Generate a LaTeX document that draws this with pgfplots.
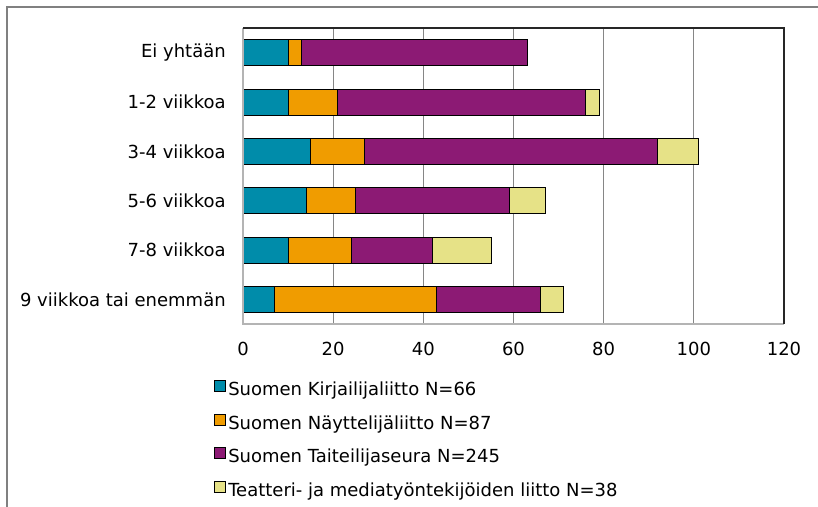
\documentclass[border=0pt]{standalone}
\usepackage{fontspec}
\setmainfont{DejaVu Sans}
\usepackage{pgfplots}
\pgfplotsset{compat=1.18}
\definecolor{cBlue}{RGB}{0,140,170}
\definecolor{cOrange}{RGB}{240,156,0}
\definecolor{cPurple}{RGB}{140,26,116}
\definecolor{cYellow}{RGB}{230,226,135}
\definecolor{cFrame}{RGB}{128,128,128}
\definecolor{cGrid}{RGB}{134,134,134}
\definecolor{cDark}{RGB}{38,38,38}
\definecolor{cLight}{RGB}{180,180,180}
\pgfplotsset{mylegend/.style={legend image code/.code={\draw[##1, line width=0.6pt] (0pt,-0.3pt) rectangle (8.4pt,8.1pt);}}}
\begin{document}
\begin{tikzpicture}
\useasboundingbox (0,0) rectangle (613.5pt,-380.25pt);
\draw[cFrame, line width=1.5pt] (5.25pt,-381pt) -- (5.25pt,-5.25pt) -- (614pt,-5.25pt);
\begin{axis}[
  at={(182.25pt,-243pt)}, anchor=south west,
  scale only axis, width=405.75pt, height=222pt,
  xbar stacked, bar width=19.5pt,
  xmin=0, xmax=120, xtick={0,20,...,120},
  ymin=-0.5, ymax=5.5, y dir=reverse, ytick={0,1,2,3,4,5},
  yticklabels={Ei yhtään, 1-2 viikkoa, 3-4 viikkoa, 5-6 viikkoa, 7-8 viikkoa, 9 viikkoa tai enemmän},
  major tick length=0pt,
  xmajorgrids, grid style={line width=0.75pt, color=cGrid},
  axis line style={draw=none},
  tick label style={font=\fontsize{13.5}{16}\selectfont},
  /pgf/number format/assume math mode=true,
  yticklabel style={inner sep=0pt, xshift=-12.75pt},
  xticklabel style={inner sep=0pt, yshift=-13.5pt},
  legend cell align=left,
  legend style={at={(-0.061,-0.179)}, anchor=north west, draw=none, fill=none,
    font=\fontsize{13.5}{16}\selectfont, row sep=10.3pt, column sep=1.5pt,
    nodes={inner sep=0pt, text height=10pt, text depth=3pt}},
  every axis plot/.append style={draw=black, line width=0.6pt},
  after end axis/.code={
    \draw[cLight, line width=1.2pt] (rel axis cs:0,1) -- (rel axis cs:0,0) -- (rel axis cs:1,0);
    \draw[cDark, line width=1pt] (rel axis cs:0,1) -- (rel axis cs:1,1) -- (rel axis cs:1,0);
  },
]
\addplot[fill=cBlue, mylegend] coordinates {(10,0) (10,1) (15,2) (14,3) (10,4) (7,5)};
\addplot[fill=cOrange, mylegend] coordinates {(3,0) (11,1) (12,2) (11,3) (14,4) (36,5)};
\addplot[fill=cPurple, mylegend] coordinates {(50,0) (55,1) (65,2) (34,3) (18,4) (23,5)};
\addplot[fill=cYellow, mylegend] coordinates {(0,0) (3,1) (9,2) (8,3) (13,4) (5,5)};
\legend{Suomen Kirjailijaliitto N=66, Suomen Näyttelijäliitto N=87, Suomen Taiteilijaseura N=245, Teatteri- ja mediatyöntekijöiden liitto N=38}
\end{axis}
\end{tikzpicture}
\end{document}
